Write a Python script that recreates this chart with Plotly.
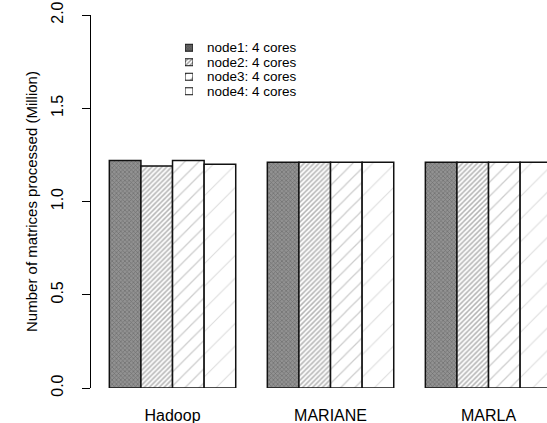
import plotly.graph_objects as go

categories = ["Hadoop", "MARIANE", "MARLA"]
series_names = ["node1: 4 cores", "node2: 4 cores", "node3: 4 cores", "node4: 4 cores"]
node1 = [1.22, 1.21, 1.21]
node2 = [1.19, 1.21, 1.21]
node3 = [1.22, 1.21, 1.21]
node4 = [1.20, 1.21, 1.21]
values = [node1, node2, node3, node4]
y_ticks = [0, 0.5, 1.0, 1.5, 2.0]
y_ticktext = ["0.0", "0.5", "1.0", "1.5", "2.0"]

patterns = [
    dict(shape="x", size=3, solidity=0.4, fgcolor="#4a4a4a", bgcolor="#929292"),
    dict(shape="/", size=3.5, solidity=0.45, fgcolor="#6a6a6a", bgcolor="white"),
    dict(shape="/", size=10, solidity=0.12, fgcolor="#999999", bgcolor="white"),
    dict(shape="/", size=16, solidity=0.07, fgcolor="#bbbbbb", bgcolor="white"),
]
legend_patterns = [
    dict(shape="x", size=2, solidity=0.4, fgcolor="#333333", bgcolor="#666666"),
    dict(shape="/", size=3, solidity=0.45, fgcolor="#333333", bgcolor="white"),
    dict(shape="/", size=8, solidity=0.15, fgcolor="#333333", bgcolor="white"),
    dict(shape="", bgcolor="white"),
]

FONT = "Liberation Sans, Arial, sans-serif"
W, H = 547, 423
ML, MR, MT, MB = 91, 0, 15, 35
PW, PH = W - ML - MR, H - MT - MB

fig = go.Figure()
for name, vals, pat in zip(series_names, values, patterns):
    fig.add_trace(go.Bar(
        x=categories, y=vals, name=name, showlegend=False,
        marker=dict(color="white", pattern=pat, line=dict(color="#111111", width=1.5)),
    ))

# legend swatches on an inset axis
sw_x0, sw_x1 = 185, 193
row_top, row_h = 40.5, 14.5
for i, (name, pat) in enumerate(zip(series_names, legend_patterns)):
    fig.add_trace(go.Bar(
        x=[1], y=[i], base=0, orientation="h", width=0.48, offset=-0.24,
        xaxis="x2", yaxis="y2", showlegend=False, hoverinfo="skip",
        marker=dict(color="white", pattern=pat, line=dict(color="#111111", width=1)),
    ))
    fig.add_annotation(
        x=(206 - ML) / PW, xref="paper", y=i, yref="y2", text=name,
        showarrow=False, xanchor="left", yanchor="middle", borderpad=0,
        font=dict(family=FONT, size=13.5, color="black"),
    )

y2_lo = (PH - (row_top + 4 * row_h - MT)) / PH
y2_hi = (PH - (row_top - MT)) / PH

fig.update_layout(
    width=W, height=H,
    margin=dict(l=ML, r=MR, t=MT, b=MB, autoexpand=False),
    paper_bgcolor="white", plot_bgcolor="white",
    barmode="group", bargap=0.2, bargroupgap=0,
    font=dict(family=FONT, color="black"),
    xaxis=dict(
        range=[-0.516, 2.37], showline=False, showgrid=False, zeroline=False,
        ticks="", tickfont=dict(size=16), ticklabelstandoff=16,
    ),
    yaxis=dict(
        range=[0, 2], showline=True, linecolor="black", linewidth=1,
        showgrid=False, zeroline=False, ticks="outside", ticklen=8,
        tickcolor="black", tickwidth=1,
        tickvals=y_ticks, ticktext=y_ticktext, tickangle=-90,
        tickfont=dict(size=16), ticklabelstandoff=13,
        title=dict(text="Number of matrices processed (Million)",
                   font=dict(size=15), standoff=7),
    ),
    xaxis2=dict(
        domain=[(sw_x0 - ML) / PW, (sw_x1 - ML) / PW], range=[0, 1],
        anchor="y2", visible=False, fixedrange=True,
    ),
    yaxis2=dict(
        domain=[y2_lo, y2_hi],
        range=[3.5, -0.5], anchor="x2", visible=False, fixedrange=True,
    ),
)

fig.write_html("out.html", config={"displayModeBar": False},
               post_script="document.body.style.margin='0';")
